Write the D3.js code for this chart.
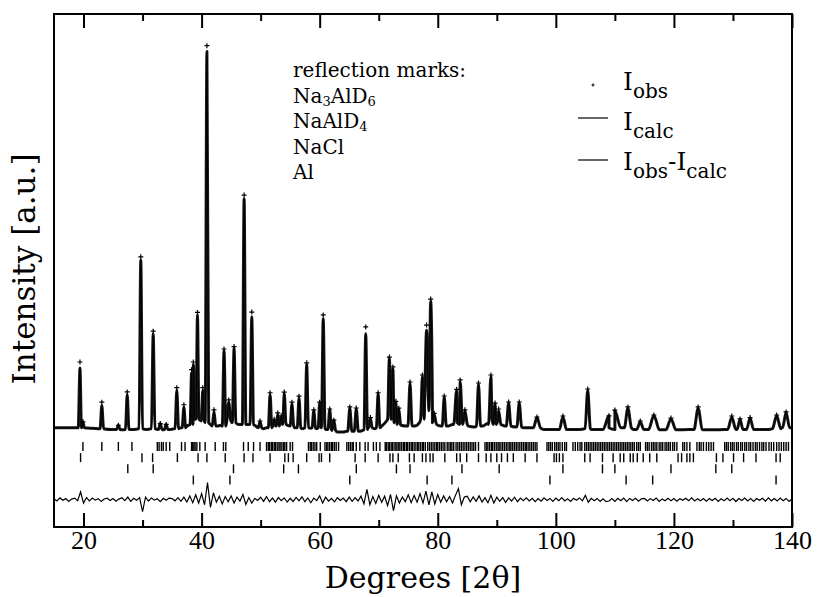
<!DOCTYPE html>
<html>
<head>
<meta charset="utf-8">
<script src="https://cdn.jsdelivr.net/npm/d3@7"></script>
<style>
  body { margin: 0; background: #fff; }
  svg text { font-family: "DejaVu Serif", serif; fill: #000; }
</style>
</head>
<body>
<div id="my_dataviz"></div>
<script>
// peaks: [2theta, calc top, obs top, half width, base]
const peaks = [
  [19.4, 500, 535, 0.3, 150], [19.9, 185, 185, 0.25, 150], [23.1, 280, 300, 0.3, 145],
  [25.9, 165, 165, 0.3, 140], [27.4, 345, 360, 0.3, 140], [29.7, 1130, 1150, 0.3, 145],
  [31.8, 700, 715, 0.3, 145], [33.0, 175, 175, 0.3, 140], [34.0, 170, 170, 0.3, 140],
  [35.8, 370, 385, 0.3, 145], [37.0, 270, 285, 0.3, 150], [38.3, 470, 490, 0.25, 170],
  [38.6, 520, 535, 0.25, 200], [39.3, 810, 825, 0.25, 200], [40.2, 370, 385, 0.25, 190],
  [40.9, 2350, 2385, 0.3, 180], [42.1, 245, 255, 0.3, 160], [43.8, 600, 611, 0.3, 160],
  [44.6, 300, 313, 0.3, 200], [45.5, 615, 625, 0.3, 180], [47.2, 1490, 1511, 0.3, 170],
  [48.5, 800, 827, 0.3, 170], [49.9, 185, 190, 0.3, 150], [51.6, 345, 355, 0.3, 150],
  [52.3, 195, 200, 0.25, 160], [52.9, 230, 237, 0.25, 160], [53.5, 215, 220, 0.25, 170],
  [54.0, 350, 359, 0.3, 170], [55.3, 290, 300, 0.3, 160], [56.5, 325, 335, 0.3, 150],
  [57.8, 520, 530, 0.3, 150], [59.0, 250, 255, 0.3, 150], [60.0, 295, 300, 0.25, 150],
  [60.6, 790, 810, 0.3, 150], [61.7, 255, 260, 0.3, 140], [62.4, 195, 195, 0.3, 135],
  [65.1, 265, 272, 0.35, 130], [66.2, 260, 266, 0.35, 130], [67.8, 700, 740, 0.3, 140],
  [68.6, 205, 210, 0.3, 150], [69.9, 350, 355, 0.3, 150], [71.8, 555, 564, 0.3, 200],
  [72.4, 495, 506, 0.3, 230], [72.9, 300, 305, 0.3, 180], [73.4, 260, 265, 0.3, 170],
  [75.3, 410, 418, 0.35, 160], [77.4, 450, 459, 0.3, 200], [78.1, 720, 751, 0.3, 330],
  [78.8, 890, 903, 0.3, 250], [79.4, 230, 235, 0.3, 180], [81.1, 330, 336, 0.35, 160],
  [83.2, 370, 375, 0.5, 170], [83.8, 420, 430, 0.5, 180], [84.6, 250, 255, 0.4, 170],
  [86.9, 405, 412, 0.35, 160], [89.0, 450, 459, 0.4, 170], [89.7, 290, 295, 0.5, 200],
  [90.3, 250, 260, 0.4, 170], [92.0, 295, 301, 0.4, 160], [93.8, 295, 301, 0.4, 155],
  [96.8, 210, 213, 0.6, 150], [101.2, 215, 219, 0.6, 140], [105.4, 370, 377, 0.45, 145],
  [109.0, 220, 220, 1.0, 140], [110.0, 250, 254, 1.0, 150], [112.2, 265, 272, 0.6, 150],
  [114.3, 185, 190, 0.6, 140], [116.6, 222, 225, 0.9, 140], [119.5, 202, 207, 0.8, 140],
  [124.1, 265, 272, 0.7, 140], [129.8, 212, 219, 0.7, 140], [131.2, 198, 202, 0.5, 140],
  [132.9, 208, 210, 0.6, 140], [137.4, 222, 225, 0.7, 145], [139.0, 240, 243, 0.6, 150]
];

// background between the peaks: [2theta, counts]
const background = [
  [15, 150], [17, 150], [18.8, 150], [21, 148], [22.5, 145], [24.8, 140], [26.5, 138],
  [28.5, 140], [30.6, 140], [33.5, 138], [35, 142], [36.5, 150], [37.5, 160], [41.5, 170],
  [42.7, 160], [43.2, 165], [46.3, 170], [49.2, 160], [50.5, 145], [51.0, 150], [55.8, 150],
  [57.1, 145], [58.5, 148], [59.5, 145], [61.0, 140], [63, 125], [64, 125], [64.6, 130],
  [66.8, 130], [67.3, 135], [68.2, 150], [69.3, 145], [70.5, 160], [71.2, 185], [73.8, 165],
  [74.7, 160], [76.1, 160], [76.9, 180], [79.8, 170], [80.5, 160], [81.8, 160], [82.5, 170],
  [85.2, 160], [86.2, 155], [87.6, 160], [88.4, 175], [91.0, 165], [91.5, 160], [92.6, 158],
  [93.2, 155], [94.5, 150], [95.5, 150], [98, 140], [100, 140], [102, 140], [104, 140],
  [106, 140], [107, 140], [113.2, 140], [115.3, 140], [117.6, 138], [118.5, 138],
  [120.5, 138], [122.5, 140], [123.3, 140], [125, 138], [127, 138], [128.5, 140],
  [130.6, 145], [134, 140], [136, 140], [138.2, 150], [140, 150]
];

// Iobs - Icalc, one value every 0.5 deg from 15 deg
const diffStart = 15, diffStep = 0.5;
const diffVals = [
  5, -8, 10, -4, 6, -11, 3, 9, -6, 45, -20, 12, -7, 9, -3, 6, -10, 4, 8, -5,
  7, -9, 3, 11, -6, 15, -10, 8, -4, 12, -70, 14, -8, 10, -3, 5, -12, 8, -4, 9,
  6, -7, 12, -10, 15, -14, 22, -18, 28, -20, 35, -30, 100, -45, 40, -15, 20, -25, 18, -12,
  22, -20, 15, -8, 30, -28, 12, -20, 8, -5, 14, -10, 18, -12, 9, -15, 12, -6, 10, -14,
  8, -11, 13, -7, 16, -12, 10, -18, 9, -6, 22, -20, 14, -9, 7, -13, 11, -5, 9, -12,
  15, -10, 12, -8, 20, -25, 60, -30, 18, -22, 25, -15, 20, -35, 30, -65, 22, -20, 15, -12,
  28, -18, 24, -15, 35, -20, 50, -30, 45, -25, 30, -15, 22, -12, 18, -20, 25, 65, -30, 15,
  20, -12, 16, -10, 22, -14, 12, -18, 25, -20, 14, -10, 12, -16, 10, -8, 14, -12, 9, -6,
  10, -7, 8, -12, 6, -9, 11, -5, 7, -10, 9, -6, 12, -8, 5, -10, 8, -4, 10, -7,
  25, -15, 8, -6, 7, -10, 5, -12, -8, 6, -10, 8, -6, 9, -12, 7, -5, 8, -9, 5,
  7, -8, 6, -5, 9, -10, 4, -6, 8, -7, 6, -9, 5, -4, 8, -6, 10, -8, 5, -7,
  7, -9, 6, -5, 8, -10, 5, -7, 9, -6, 8, -11, 6, -5, 9, -8, 7, -10, 6, -4,
  8, -9, 10, -7, 6, -8, 9, -6, 7, -10, 5
];
const diffOffset = -270;

// reflection marks per phase
const phases = ["Na3AlD6", "NaAlD4", "NaCl", "Al"];
const marks = {
  Na3AlD6: [19.9, 23.1, 25.9, 28.2, 32.5, 32.8, 33.2, 33.5, 34.0, 34.6, 36.6, 37.2, 38.3, 38.5,
    38.7, 38.9, 39.2, 39.7, 40.6, 42.3, 43.7, 44.1, 47.1, 47.9, 48.8, 49.9, 51.0, 51.3, 51.5,
    51.8, 52.0, 52.3, 52.5, 52.8, 53.1, 53.3, 53.6, 53.9, 54.1, 54.4, 55.0, 55.4, 58.1, 58.4,
    58.6, 58.9, 59.2, 59.5, 60.1, 60.9, 61.2, 61.4, 61.7, 62.0, 62.2, 62.5, 62.8, 63.2, 64.6,
    64.9, 65.2, 65.5, 65.7, 66.2, 66.8, 67.7, 68.2, 69.1, 69.6, 70.2, 71.1, 71.3, 71.6, 71.8,
    72.1, 72.3, 72.6, 72.9, 73.1, 73.4, 73.6, 73.9, 74.2, 74.4, 74.7, 74.9, 75.2, 75.5, 75.7,
    76.0, 76.3, 76.6, 76.8, 77.1, 77.4, 77.6, 77.9, 78.3, 78.6, 78.9, 79.2, 79.5, 79.8, 80.0,
    80.3, 80.6, 80.9, 81.2, 81.6, 81.9, 82.2, 82.4, 82.7, 83.1, 83.4, 83.7, 84.0, 84.3, 84.6,
    84.9, 85.2, 85.5, 85.8, 86.1, 86.4, 86.9, 88.0, 88.3, 88.5, 88.8, 89.1, 89.3, 89.6, 89.9,
    90.2, 90.4, 90.7, 91.0, 91.3, 91.6, 91.9, 92.2, 92.4, 92.7, 93.0, 93.3, 93.6, 93.9, 94.2,
    94.5, 94.8, 95.0, 95.3, 95.6, 95.9, 96.2, 96.5, 96.8, 98.5, 98.8, 99.1, 99.4, 99.8, 100.1,
    100.4, 100.7, 101.1, 101.5, 101.8, 102.9, 103.3, 103.7, 104.1, 104.4, 104.9, 105.2, 105.5,
    105.8, 106.1, 106.4, 106.7, 107.0, 107.3, 107.6, 107.9, 108.2, 108.5, 108.8, 109.1, 109.4,
    109.7, 110.0, 110.3, 110.6, 110.9, 111.2, 111.5, 111.8, 112.1, 112.4, 112.7, 113.0, 113.3,
    113.7, 114.0, 114.3, 115.2, 115.5, 115.8, 116.2, 116.5, 116.8, 117.1, 117.5, 117.8, 118.1,
    118.5, 118.8, 119.1, 119.4, 119.8, 120.1, 120.5, 121.5, 121.8, 122.2, 122.7, 123.9, 124.3,
    124.6, 125.0, 125.5, 125.9, 126.3, 126.7, 128.6, 128.9, 129.2, 129.6, 129.9, 130.2, 130.6,
    130.9, 131.3, 131.6, 132.0, 132.3, 132.7, 133.0, 133.4, 133.8, 134.1, 134.5, 134.9, 135.2,
    135.6, 136.1, 136.5, 136.9, 137.4, 137.8, 138.2, 138.6, 139.0, 139.4],
  NaAlD4: [19.5, 29.9, 31.7, 35.9, 39.4, 40.9, 44.0, 47.2, 48.7, 51.6, 54.1, 54.7, 55.5, 57.8,
    59.9, 60.3, 61.7, 66.0, 67.7, 69.9, 71.9, 72.4, 73.3, 75.2, 76.0, 77.4, 78.0, 78.7, 79.2,
    81.2, 83.2, 83.8, 84.9, 86.9, 88.2, 89.0, 90.0, 90.8, 91.8, 92.8, 94.8, 96.8, 99.7, 100.1,
    100.6, 101.2, 104.9, 105.8, 107.9, 109.7, 110.9, 111.5, 112.6, 113.1, 113.8, 114.8, 115.9,
    117.1, 120.7, 121.3, 122.2, 122.7, 123.3, 127.2, 128.3, 130.1, 131.8, 133.9, 137.3, 138.0],
  NaCl: [27.5, 31.8, 45.4, 53.9, 56.4, 66.2, 73.0, 75.3, 84.1, 90.4, 101.2, 107.9, 110.0,
    119.5, 127.1, 129.8],
  Al: [38.6, 44.8, 65.1, 78.2, 82.4, 99.0, 111.9, 116.4, 137.3]
};

const majorTicks = [20, 40, 60, 80, 100, 120, 140];
const minorTicks = [30, 50, 70, 90, 110, 130];

var margin = { top: 14, right: 27, bottom: 70, left: 54 },
  width = 819 - margin.left - margin.right,
  height = 597 - margin.top - margin.bottom;

var svg = d3.select("#my_dataviz")
  .append("svg")
  .attr("width", 819)
  .attr("height", 597)
  .append("g")
  .attr("transform", "translate(" + margin.left + "," + margin.top + ")");

var x = d3.scaleLinear().domain([15, 140]).range([0, width]);
var y = d3.scaleLinear().domain([-430, 2570]).range([height, 0]);
var row = d3.scalePoint().domain(phases).range([432.5, 466]);

// profile vertices: background knots plus base / top / base of every peak
var profile = background.map(d => ({ t: d[0], c: d[1] }));
peaks.forEach(p => {
  profile.push({ t: p[0] - p[3], c: p[4] });
  profile.push({ t: p[0], c: p[1] });
  profile.push({ t: p[0] + p[3], c: p[4] });
});
profile.sort((a, b) => a.t - b.t);

var line = d3.line().curve(d3.curveMonotoneX).x(d => x(d.t)).y(d => y(d.c));

// observed points (dense markers form a thick band)
svg.append("path")
  .datum(profile)
  .attr("fill", "none")
  .attr("stroke", "#1a1a1a")
  .attr("stroke-width", 3)
  .attr("stroke-linejoin", "round")
  .attr("d", line);

// calculated profile
svg.append("path")
  .datum(profile)
  .attr("fill", "none")
  .attr("stroke", "#000")
  .attr("stroke-width", 1)
  .attr("d", line);

// obs markers at peak tops
var plus = "M-2.5,0H2.5M0,-2.5V2.5";
svg.append("g")
  .selectAll("path")
  .data(peaks)
  .enter()
  .append("path")
  .attr("transform", d => "translate(" + x(d[0]) + "," + y(d[2]) + ")")
  .attr("d", plus)
  .attr("stroke", "#000")
  .attr("stroke-width", 1.2);

// difference curve
svg.append("path")
  .datum(diffVals)
  .attr("fill", "none")
  .attr("stroke", "#000")
  .attr("stroke-width", 1.2)
  .attr("d", d3.line()
    .x((d, i) => x(diffStart + i * diffStep))
    .y(d => y(diffOffset + d)));

// reflection marks
phases.forEach(ph => {
  svg.append("g")
    .selectAll("line")
    .data(marks[ph])
    .enter()
    .append("line")
    .attr("x1", d => x(d)).attr("x2", d => x(d))
    .attr("y1", row(ph) - 4.5).attr("y2", row(ph) + 4.5)
    .attr("stroke", "#000")
    .attr("stroke-width", 1.4);
});

// axes, ticks pointing inwards
var xb = svg.append("g")
  .attr("transform", "translate(0," + height + ")")
  .call(d3.axisBottom(x).tickValues(majorTicks).tickSize(-14).tickPadding(3).tickFormat(d3.format("d")));
xb.selectAll("text")
  .style("font-family", "'Liberation Serif', serif")
  .style("font-size", "26px")
  .attr("dy", "0.72em");
svg.append("g")
  .attr("transform", "translate(0," + height + ")")
  .call(d3.axisBottom(x).tickValues(minorTicks).tickSize(-7).tickFormat(""));
svg.append("g")
  .call(d3.axisTop(x).tickValues(majorTicks).tickSize(-14).tickFormat(""));
svg.append("g")
  .call(d3.axisTop(x).tickValues(minorTicks).tickSize(-7).tickFormat(""));
svg.selectAll(".domain").remove();
svg.selectAll(".tick line").attr("stroke", "#000").attr("stroke-width", 2);

svg.append("rect")
  .attr("width", width).attr("height", height)
  .attr("fill", "none").attr("stroke", "#000").attr("stroke-width", 2);

// axis labels
svg.append("text")
  .attr("x", width / 2).attr("y", 574)
  .attr("text-anchor", "middle")
  .style("font-size", "30px")
  .text("Degrees [2θ]");

svg.append("text")
  .attr("transform", "translate(-19,255) rotate(-90)")
  .attr("text-anchor", "middle")
  .style("font-size", "31px")
  .text("Intensity [a.u.]");

// legend: phases
var lg = svg.append("g").attr("transform", "translate(239,0)");
lg.append("text").attr("y", 63).style("font-size", "20px").text("reflection marks:");
var phaseLabels = [
  ["Na", "3", "AlD", "6"],
  ["NaAlD", "4"],
  ["NaCl"],
  ["Al"]
];
phaseLabels.forEach((parts, i) => {
  var t = lg.append("text").attr("y", 89 + i * 25.3).style("font-size", "20px");
  parts.forEach((s, j) => {
    var sub = j % 2 === 1;
    t.append("tspan")
      .attr("dy", sub ? 3 : (j > 0 ? -3 : 0))
      .style("font-size", sub ? "13px" : "20px")
      .text(s);
  });
});

// legend: profiles
var lr = svg.append("g").attr("transform", "translate(524,0)");
lr.append("path").attr("transform", "translate(15,71)").attr("d", "M-1.5,0H1.5M0,-1.5V1.5")
  .attr("stroke", "#000").attr("stroke-width", 1);
lr.append("line").attr("x1", 0).attr("x2", 30).attr("y1", 104).attr("y2", 104)
  .attr("stroke", "#000").attr("stroke-width", 1.2);
lr.append("line").attr("x1", 0).attr("x2", 30).attr("y1", 146).attr("y2", 146)
  .attr("stroke", "#000").attr("stroke-width", 1.2);

var iLabels = [
  [["I", ""], ["obs", "s"]],
  [["I", ""], ["calc", "s"]],
  [["I", ""], ["obs", "s"], ["-I", "u"], ["calc", "s"]]
];
iLabels.forEach((parts, i) => {
  var t = lr.append("text").attr("x", 45).attr("y", 76 + i * 40).style("font-size", "25px");
  parts.forEach(p => {
    t.append("tspan")
      .attr("dy", p[1] === "s" ? 8 : (p[1] === "u" ? -8 : 0))
      .style("font-size", p[1] === "s" ? "20px" : "25px")
      .text(p[0]);
  });
});
</script>
</body>
</html>
